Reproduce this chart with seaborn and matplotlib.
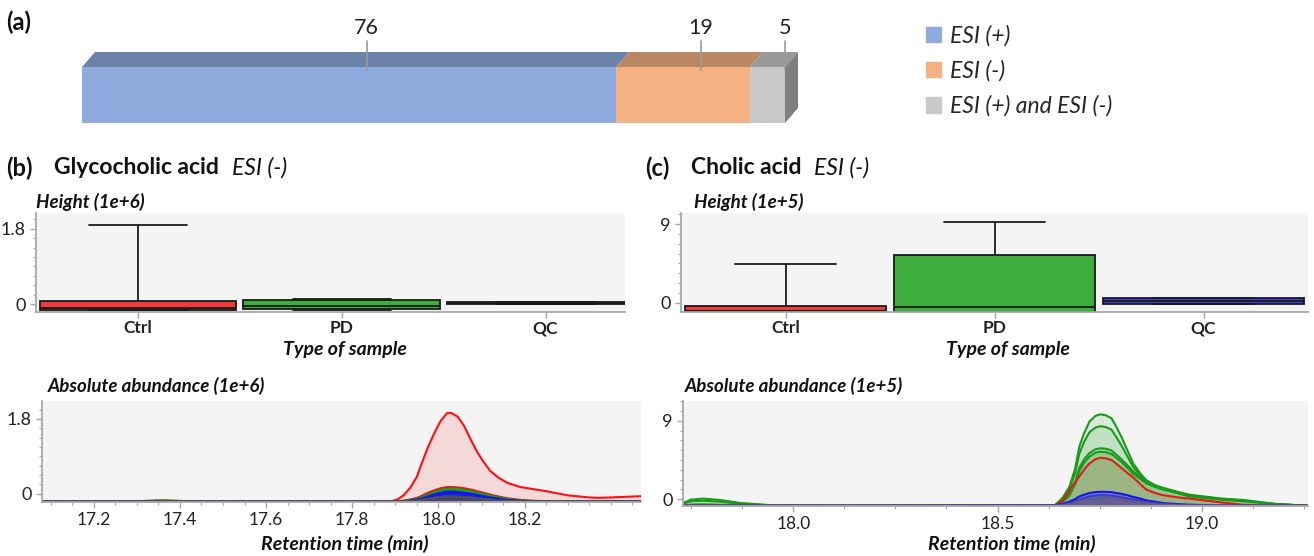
import numpy as np
import pandas as pd
import matplotlib.pyplot as plt
import seaborn as sns
from matplotlib.patches import Polygon, Patch
from matplotlib.ticker import AutoMinorLocator, FixedLocator

sns.set_theme(style="white")
plt.rcParams['font.family'] = ['Lato', 'DejaVu Sans']

# -------- data: (a) ionisation mode counts --------
esi_labels = ["ESI (+)", "ESI (-)", "ESI (+) and ESI (-)"]
esi_counts = [76, 19, 5]
esi_front = ["#8FAADC", "#F4B183", "#C9C9C9"]
esi_top = ["#6D82A8", "#BA8763", "#9A9A9A"]

# -------- data: box plots (min, q1, median, q3, max) --------
groups = ["Ctrl", "PD", "QC"]
group_colors = {"Ctrl": "#F03C3C", "PD": "#3DAE3D", "QC": "#4040E6"}

glyco_ctrl = [-0.15, -0.14, -0.10, 0.07, 1.89]
glyco_pd = [-0.14, -0.13, -0.04, 0.10, 0.13]
glyco_qc = [0.00, 0.00, 0.02, 0.04, 0.04]

cholic_ctrl = [-0.95, -0.95, -0.90, -0.34, 4.40]
cholic_pd = [-1.03, -1.03, -0.53, 5.46, 9.27]
cholic_qc = [-0.15, -0.15, 0.15, 0.50, 0.50]

# -------- data: chromatograms (b) glycocholic acid, 1e+6 --------
t_glyco = [17.08, 17.30, 17.36, 17.42, 17.50, 17.89, 17.905, 17.92, 17.935, 17.95, 17.96,
           17.975, 17.99, 18.005, 18.02, 18.03, 18.045, 18.06, 18.075, 18.09, 18.105, 18.12,
           18.14, 18.16, 18.19, 18.22, 18.25, 18.30, 18.35, 18.37, 18.40, 18.47]
glyco_red_big = [-0.18, -0.18, -0.17, -0.18, -0.18, -0.18, -0.14, -0.03, 0.15, 0.41, 0.70,
                 1.10, 1.45, 1.75, 1.94, 1.94, 1.85, 1.62, 1.30, 1.00, 0.76, 0.55,
                 0.38, 0.26, 0.16, 0.11, 0.06, -0.04, -0.09, -0.10, -0.09, -0.06]
glyco_red_small = [-0.18, -0.18, -0.17, -0.18, -0.18, -0.18, -0.18, -0.17, -0.14, -0.10, -0.06,
                   0.02, 0.08, 0.13, 0.16, 0.16, 0.15, 0.13, 0.10, 0.06, 0.02, -0.02,
                   -0.07, -0.11, -0.15, -0.17, -0.18, -0.18, -0.18, -0.18, -0.18, -0.18]
glyco_green = [-0.18, -0.18, -0.16, -0.18, -0.18, -0.18, -0.18, -0.17, -0.15, -0.12, -0.09,
               -0.03, 0.03, 0.09, 0.12, 0.12, 0.11, 0.09, 0.06, 0.02, -0.02, -0.05,
               -0.09, -0.13, -0.16, -0.18, -0.18, -0.18, -0.18, -0.18, -0.18, -0.18]
glyco_blue = [-0.18, -0.18, -0.18, -0.18, -0.18, -0.18, -0.18, -0.18, -0.16, -0.14, -0.12,
              -0.07, -0.02, 0.02, 0.05, 0.05, 0.04, 0.02, 0.00, -0.03, -0.06, -0.09,
              -0.12, -0.15, -0.17, -0.18, -0.18, -0.18, -0.18, -0.18, -0.18, -0.18]
glyco_dark = [-0.18, -0.18, -0.18, -0.18, -0.18, -0.18, -0.18, -0.18, -0.17, -0.16, -0.15,
              -0.12, -0.10, -0.08, -0.06, -0.06, -0.07, -0.08, -0.09, -0.11, -0.13, -0.14,
              -0.16, -0.17, -0.18, -0.18, -0.18, -0.18, -0.18, -0.18, -0.18, -0.18]

# -------- data: chromatograms (c) cholic acid, 1e+5 --------
t_cholic = [17.73, 17.75, 17.78, 17.82, 17.87, 17.95, 18.10,
            18.64, 18.66, 18.676, 18.69, 18.70, 18.712, 18.725, 18.74, 18.752, 18.765,
            18.779, 18.79, 18.803, 18.818, 18.832, 18.85, 18.864, 18.885, 18.905, 18.94,
            18.97, 19.05, 19.10, 19.18, 19.26]
cholic_green1 = [-0.45, -0.05, 0.05, -0.10, -0.45, -0.72, -0.77,
                 -0.72, 0.20, 1.42, 3.50, 6.03, 7.60, 8.92, 9.60, 9.77, 9.65,
                 9.31, 8.40, 7.19, 5.60, 4.12, 2.90, 2.19, 1.60, 1.23, 0.75,
                 0.35, -0.03, -0.20, -0.58, -0.77]
cholic_green2 = [-0.55, -0.25, -0.20, -0.30, -0.55, -0.74, -0.77,
                 -0.73, 0.00, 1.10, 3.00, 5.20, 6.60, 7.70, 8.25, 8.40, 8.30,
                 8.00, 7.20, 6.20, 4.90, 3.70, 2.70, 2.10, 1.55, 1.15, 0.70,
                 0.30, -0.08, -0.25, -0.60, -0.77]
cholic_green3 = [-0.77, -0.62, -0.60, -0.65, -0.72, -0.77, -0.77,
                 -0.74, -0.20, 0.60, 2.00, 3.60, 4.60, 5.30, 5.75, 5.85, 5.80,
                 5.60, 5.15, 4.60, 3.90, 3.20, 2.50, 2.00, 1.60, 1.30, 0.85,
                 0.50, 0.05, -0.10, -0.55, -0.77]
cholic_green4 = [-0.77, -0.77, -0.77, -0.77, -0.77, -0.77, -0.77,
                 -0.75, -0.30, 0.40, 1.70, 3.20, 4.20, 4.90, 5.35, 5.45, 5.40,
                 5.20, 4.80, 4.30, 3.60, 2.90, 2.30, 1.80, 1.40, 1.10, 0.70,
                 0.40, 0.00, -0.15, -0.60, -0.77]
cholic_red = [-0.77, -0.77, -0.77, -0.77, -0.77, -0.77, -0.77,
              -0.77, -0.20, 1.00, 1.90, 2.60, 3.40, 4.10, 4.60, 4.76, 4.70,
              4.50, 4.10, 3.60, 3.00, 2.50, 1.70, 1.10, 0.70, 0.45, 0.20,
              0.05, -0.40, -0.65, -0.77, -0.77]
cholic_blue1 = [-0.77, -0.77, -0.77, -0.77, -0.77, -0.77, -0.77,
                -0.75, -0.55, -0.30, 0.00, 0.30, 0.50, 0.70, 0.80, 0.84, 0.83,
                0.80, 0.70, 0.60, 0.45, 0.25, 0.05, -0.15, -0.30, -0.45, -0.58,
                -0.65, -0.74, -0.77, -0.77, -0.77]
cholic_blue2 = [-0.77, -0.77, -0.77, -0.77, -0.77, -0.77, -0.77,
                -0.76, -0.65, -0.50, -0.30, -0.05, 0.15, 0.30, 0.42, 0.45, 0.44,
                0.40, 0.30, 0.20, 0.08, -0.05, -0.20, -0.35, -0.45, -0.55, -0.65,
                -0.70, -0.76, -0.77, -0.77, -0.77]
cholic_grey = [-0.77, -0.77, -0.77, -0.77, -0.77, -0.77, -0.77,
               -0.77, -0.72, -0.60, -0.45, -0.30, -0.15, -0.05, 0.05, 0.10, 0.10,
               0.05, 0.00, -0.10, -0.20, -0.30, -0.40, -0.50, -0.58, -0.65, -0.72,
               -0.74, -0.77, -0.77, -0.77, -0.77]

W, H = 1314, 556
fig = plt.figure(figsize=(W / 100, H / 100), dpi=100)


def px_axes(l, t, r, b):
    return fig.add_axes([l / W, 1 - b / H, (r - l) / W, (b - t) / H])


def label(x, y, s, **kw):
    kw.setdefault("va", "center")
    fig.text(x / W, 1 - y / H, s, color="#111111", **kw)


def style_axes(ax):
    ax.set_facecolor("#F4F4F4")
    for s in ["top", "right"]:
        ax.spines[s].set_visible(False)
    for s in ["left", "bottom"]:
        ax.spines[s].set_color("#A8A8A8")
        ax.spines[s].set_linewidth(1.3)
    ax.tick_params(axis="both", which="both", direction="out", color="#A8A8A8",
                   labelcolor="#222222", left=True, bottom=True)
    ax.tick_params(which="major", length=4, width=1)
    ax.tick_params(which="minor", length=2.5, width=0.8)
    ax.set_xlabel("")
    ax.set_ylabel("")


# -------- (a) stacked 3D bar --------
ax = px_axes(82, 8, 830, 125)
cum = np.cumsum(esi_counts)
for value, color in reversed(list(zip(cum, esi_front))):
    sns.barplot(x=[value], y=["ESI"], orient="h", color=color, saturation=1,
                width=0.8, edgecolor="none", ax=ax)
dx, dy = 1.85, 0.214
starts = np.concatenate([[0], cum[:-1]])
for x0, val, col in zip(starts, esi_counts, esi_top):
    ax.add_patch(Polygon([(x0, 0.4), (x0 + val, 0.4), (x0 + val + dx, 0.4 + dy),
                          (x0 + dx, 0.4 + dy)], closed=True, color=col, lw=0))
total = cum[-1]
ax.add_patch(Polygon([(total, -0.4), (total + dx, -0.4 + dy), (total + dx, 0.4 + dy),
                      (total, 0.4)], closed=True, color="#7F7F7F", lw=0))
for x0, val in zip(starts, esi_counts):
    xc = x0 + val / 2 + 2.5
    ax.plot([xc, xc], [0.357, 0.771], color="#9A9A9A", lw=1.2)
    ax.text(xc, 0.96, str(val), ha="center", va="center", fontsize=15.5, color="#222222")
ax.set_xlim(0, 106.4)
ax.set_ylim(-0.4286, 1.243)
ax.axis("off")

handles = [Patch(color=c) for c in esi_front]
fig.legend(handles, esi_labels, loc="upper left", bbox_to_anchor=(926 / W, 1 - 25 / H),
           frameon=False, prop={"style": "italic", "size": 16.5}, handlelength=0.65,
           handleheight=0.65, handletextpad=0.4, labelspacing=0.6, borderpad=0,
           borderaxespad=0)

label(6, 22, "(a)", fontsize=17, fontweight="bold")
label(6, 168, "(b)", fontsize=17, fontweight="bold")
label(54, 168, "Glycocholic acid", fontsize=16.5, fontweight="bold")
label(232, 168, "ESI (-)", fontsize=16.5, style="italic")
label(645, 168, "(c)", fontsize=17, fontweight="bold")
label(691, 168, "Cholic acid", fontsize=16.5, fontweight="bold")
label(814, 168, "ESI (-)", fontsize=16.5, style="italic")


# -------- box plots --------
def draw_box(ax, values, ylim, ytick, xmax):
    df = pd.DataFrame([(g, v) for g, vals in zip(groups, values) for v in vals],
                      columns=["group", "value"])
    sns.boxplot(data=df, x="group", y="value", hue="group", order=groups,
                palette=group_colors, whis=(0, 100), width=0.965, linewidth=1.3,
                linecolor="#1A1A1A", saturation=1, legend=False, ax=ax)
    ax.set_xlim(-0.5, xmax)
    ax.set_ylim(*ylim)
    ax.yaxis.set_major_locator(FixedLocator([0, ytick]))
    ax.set_yticklabels(["0", f"{ytick:g}"], fontsize=13)
    ax.yaxis.set_minor_locator(AutoMinorLocator(8))
    style_axes(ax)
    ax.tick_params(axis="x", pad=2)
    for t in ax.get_xticklabels():
        t.set_fontweight("bold")
        t.set_fontsize(12.5)


ax_b1 = px_axes(36, 213, 625, 312)
draw_box(ax_b1, [glyco_ctrl, glyco_pd, glyco_qc], (-0.19, 2.18), 1.8, 2.39)
ax_c1 = px_axes(681, 213, 1308, 312)
draw_box(ax_c1, [cholic_ctrl, cholic_pd, cholic_qc], (-1.06, 10.26), 9, 2.5)

label(36, 202, "Height (1e+6)", fontsize=13.5, fontweight="bold", style="italic")
label(694, 202, "Height (1e+5)", fontsize=13.5, fontweight="bold", style="italic")
label(345, 349, "Type of sample", fontsize=14, fontweight="bold", style="italic", ha="center")
label(1008, 349, "Type of sample", fontsize=14, fontweight="bold", style="italic", ha="center")


# -------- chromatograms --------
def draw_trace(ax, t, traces, base, xlim, ylim, xticks, ytick):
    rows = []
    for name, (vals, color, alpha) in traces.items():
        ax.fill_between(t, base, vals, color=color, alpha=alpha, lw=0)
        rows += [(name, ti, vi) for ti, vi in zip(t, vals)]
    df = pd.DataFrame(rows, columns=["trace", "time", "value"])
    palette = {name: spec[1] for name, spec in traces.items()}
    sns.lineplot(data=df, x="time", y="value", hue="trace", palette=palette,
                 estimator=None, sort=False, legend=False, linewidth=1.5, ax=ax)
    ax.set_xlim(*xlim)
    ax.set_ylim(*ylim)
    ax.xaxis.set_major_locator(FixedLocator(xticks))
    ax.set_xticklabels([f"{x:.1f}" for x in xticks], fontsize=12.5)
    ax.xaxis.set_minor_locator(AutoMinorLocator(4))
    ax.yaxis.set_major_locator(FixedLocator([0, ytick]))
    ax.set_yticklabels(["0", f"{ytick:g}"], fontsize=13)
    ax.yaxis.set_minor_locator(AutoMinorLocator(8))
    style_axes(ax)


ax_b2 = px_axes(42, 401, 641, 502)
draw_trace(ax_b2, t_glyco, {
    "red big": (glyco_red_big, "#FF1010", 0.12),
    "red small": (glyco_red_small, "#E01818", 0.6),
    "green": (glyco_green, "#10A010", 0.85),
    "blue": (glyco_blue, "#1010FF", 0.9),
    "dark": (glyco_dark, "#505050", 0.8),
}, -0.18, (17.08, 18.47), (-0.2, 2.23), [17.2, 17.4, 17.6, 17.8, 18.0, 18.2], 1.8)

ax_c2 = px_axes(683, 401, 1308, 506)
draw_trace(ax_c2, t_cholic, {
    "green1": (cholic_green1, "#1A9A1A", 0.12),
    "green2": (cholic_green2, "#1A9A1A", 0.12),
    "green3": (cholic_green3, "#1A9A1A", 0.15),
    "green4": (cholic_green4, "#1A9A1A", 0.15),
    "red": (cholic_red, "#E01A1A", 0.12),
    "blue1": (cholic_blue1, "#1515F0", 0.35),
    "blue2": (cholic_blue2, "#3A3AD0", 0.35),
    "grey": (cholic_grey, "#6A5A80", 0.5),
}, -0.77, (17.73, 19.26), (-0.8, 11.3), [18.0, 18.5, 19.0], 9)

label(48, 386, "Absolute abundance (1e+6)", fontsize=13.5, fontweight="bold", style="italic")
label(685, 386, "Absolute abundance (1e+5)", fontsize=13.5, fontweight="bold", style="italic")
label(345, 544, "Retention time (min)", fontsize=14, fontweight="bold", style="italic", ha="center")
label(1012, 544, "Retention time (min)", fontsize=14, fontweight="bold", style="italic", ha="center")

fig.savefig("out.png", dpi=100)
